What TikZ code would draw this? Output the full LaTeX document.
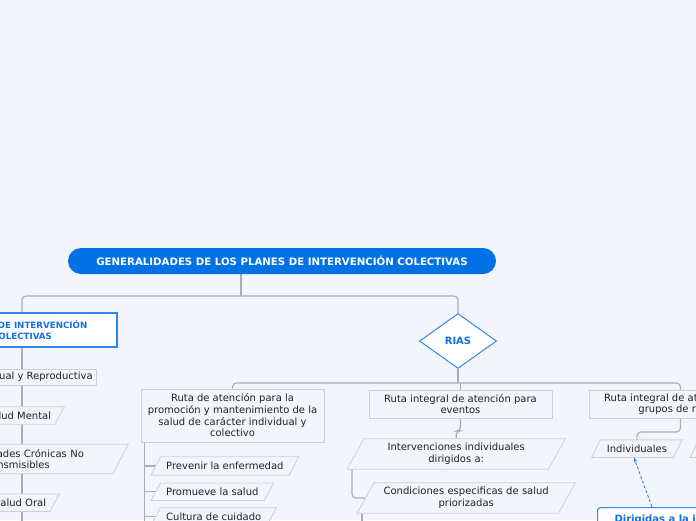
\documentclass[tikz,border=0pt]{standalone}
\usepackage{fontspec}
\setmainfont{DejaVu Sans}
\usetikzlibrary{shapes.geometric,arrows.meta,shadows}
\definecolor{bgc}{RGB}{243,245,253}
\definecolor{rootblue}{RGB}{0,114,229}
\definecolor{lblue}{RGB}{48,135,232}
\definecolor{tblue}{RGB}{20,112,224}
\definecolor{lineg}{RGB}{170,172,180}
\definecolor{boxg}{RGB}{206,209,219}
\definecolor{txt}{RGB}{34,34,34}
\pgfdeclarelayer{bglayer}
\pgfdeclarelayer{connlayer}
\pgfdeclarelayer{shapelayer}
\pgfsetlayers{bglayer,connlayer,shapelayer,main}
\newcommand\paral[2]{\path[parashape] (#1.south west) -- ([xshift=#2]#1.north west) -- (#1.north east) -- ([xshift=-#2]#1.south east) -- cycle;}
\begin{document}
\begin{tikzpicture}[x=1pt,y=-1pt,
  every node/.style={font=\fontsize{10}{11.7}\selectfont, text=txt},
  conn/.style={draw=lineg, line width=1.1pt, rounded corners=4pt},
  plainbox/.style={draw=boxg, line width=0.8pt, fill=bgc, inner xsep=4pt, inner ysep=0pt, align=center},
  paratext/.style={inner xsep=15pt, inner ysep=0pt, align=center},
  parashape/.style={draw=boxg, line width=0.8pt, fill=bgc},
  bluebox/.style={draw=lblue, line width=1.1pt, fill=white, text=tblue, align=center},
]
\useasboundingbox (0,0) rectangle (696,520);
\begin{pgfonlayer}{bglayer}
\fill[bgc] (0,0) rectangle (696,520);
\end{pgfonlayer}

% nodes
\node[fill=rootblue, rounded corners=13pt, minimum width=428pt, minimum height=26pt, inner sep=0pt, text=white, font=\fontsize{10.2}{12}\selectfont\bfseries] (root) at (282,261) {GENERALIDADES DE LOS PLANES DE INTERVENCIÓN COLECTIVAS};

\node[bluebox, minimum width=190pt, minimum height=34pt, inner sep=0pt, font=\fontsize{8.7}{11}\selectfont\bfseries, drop shadow={shadow xshift=1pt, shadow yshift=-1pt, fill=black, opacity=0.25}] (L) at (22,330) {PLANES DE INTERVENCIÓN\\COLECTIVAS};

\node[plainbox, minimum height=16pt, anchor=east] (ssr) at (97,377) {Salud Sexual y Reproductiva};
\node[paratext, inner xsep=13pt, minimum height=17pt, anchor=east] (sm) at (64.3,415.5) {Salud Mental};
\node[paratext, text width=194pt, minimum height=29pt, anchor=east] (ecnt) at (128.3,459) {Enfermedades Crónicas No\\Transmisibles};
\node[paratext, inner xsep=13pt, minimum height=17pt, anchor=east] (so) at (59.3,502.7) {Salud Oral};

\node[diamond, draw=lblue, fill=white, line width=1pt, minimum width=77pt, minimum height=55pt, inner sep=0pt, text=tblue, font=\fontsize{10}{12}\selectfont\bfseries] (rias) at (458,341) {RIAS};

\node[plainbox, minimum width=183pt, minimum height=53pt] (b1) at (232.5,415.5) {Ruta de atención para la\\promoción y mantenimiento de la\\salud de carácter individual y\\colectivo};
\node[plainbox, minimum width=183pt, minimum height=28pt] (b2) at (460.5,404) {Ruta integral de atención para\\eventos};
\node[plainbox, minimum width=183pt, minimum height=28pt] (b3) at (680.5,404) {Ruta integral de atención para\\grupos de riesgo};

\node[paratext, minimum height=18pt, anchor=west] (prev) at (151,466) {Prevenir la enfermedad};
\node[paratext, minimum height=17pt, anchor=west] (prom) at (151,491.7) {Promueve la salud};
\node[paratext, minimum height=17pt, anchor=west] (cult) at (151,516.5) {Cultura de cuidado};

\node[paratext, text width=188pt, minimum height=30pt, anchor=west] (int) at (347,454) {Intervenciones individuales\\dirigidos a:};
\node[paratext, text width=188pt, minimum height=30pt, anchor=west] (cond) at (357,498) {Condiciones especificas de salud\\priorizadas};

\node[paratext, minimum height=17.3pt, anchor=west] (ind) at (591.7,448.7) {Individuales};
\node[paratext, minimum height=17.3pt, minimum width=90pt, anchor=west] (ind2) at (690,448.7) {};

\node[bluebox, rounded corners=3pt, anchor=north west, inner xsep=17pt, inner ysep=7.5pt, font=\fontsize{10}{12}\selectfont\bfseries] (dir) at (597,507) {Dirigidas a la i\hspace*{90pt}};

% parallelogram shapes
\begin{pgfonlayer}{shapelayer}
\paral{sm}{9.3pt}
\paral{ecnt}{15.5pt}
\paral{so}{9.3pt}
\paral{prev}{9.5pt}
\paral{prom}{9.5pt}
\paral{cult}{9.5pt}
\paral{int}{17pt}
\paral{cond}{17pt}
\paral{ind}{8.7pt}
\paral{ind2}{8.7pt}
\end{pgfonlayer}

% connectors
\begin{pgfonlayer}{connlayer}
\coordinate (rj) at (241,296);
\draw[conn] (rj |- root.south) -- (rj);
\draw[conn] (L.north) -- (L.north |- rj) -- (rias.north |- rj) -- (rias.north);
\coordinate (lend) at (22,530);
\draw[conn] (L.south) -- (lend);
\coordinate (rj2) at (458,383);
\draw[conn] (rias.south) -- (rj2);
\draw[conn] (b1.north) -- (b1.north |- rj2) -- (b3.north |- rj2) -- (b3.north);
\draw[conn] (b2.north |- rj2) -- (b2.north);
\coordinate (b1x) at ([xshift=4pt]b1.south west);
\coordinate (b1end) at (145,530);
\draw[conn] (b1x) -- (b1x |- b1end);
\draw[conn] (prev.west -| b1x) -- ([xshift=4.75pt]prev.west);
\draw[conn] (prom.west -| b1x) -- ([xshift=4.75pt]prom.west);
\draw[conn] (cult.west -| b1x) -- ([xshift=4.75pt]cult.west);
\draw[conn] (b2.south) -- (b2.south |- 0,431) -- (int.north |- 0,431) -- (int.north);
\draw[conn] ([xshift=5pt]int.south west) |- ([xshift=8pt]cond.west);
\coordinate (cend) at ([xshift=5pt,yshift=-20pt]cond.south west);
\draw[conn] ([xshift=5pt]cond.south west) -- (cend);
\draw[conn] (b3.south) -- (b3.south |- 0,432) -- (ind.north |- 0,432) -- (ind.north);
\end{pgfonlayer}

\draw[draw=lblue, line width=0.9pt, dash pattern=on 3pt off 2pt, -{Stealth[length=5pt,width=4pt]}] ([xshift=55pt]dir.north west) -- ([xshift=-3pt]ind.south);
\end{tikzpicture}
\end{document}
